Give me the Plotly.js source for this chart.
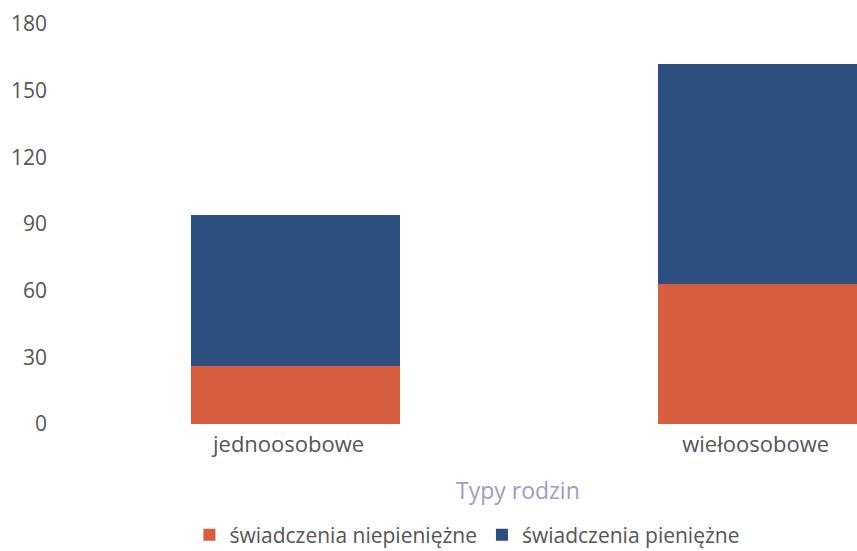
<!DOCTYPE html>
<html>
<head>
<meta charset="utf-8">
<script src="https://cdn.plot.ly/plotly-3.0.1.min.js"></script>
<style>html,body{margin:0;padding:0;background:#fff}#chart{width:857px;height:551px}</style>
</head>
<body>
<div id="chart"></div>
<script>
const categories = ["jednoosobowe", "wiełoosobowe"];
const seriesNames = ["świadczenia niepieniężne", "świadczenia pieniężne"];
const niepieniezne = [26, 63];
const pieniezne = [68, 99];
const yTicks = [0, 30, 60, 90, 120, 150, 180];
const xTitle = "Typy rodzin";

const traces = [
  {type: "bar", name: seriesNames[0], x: categories, y: niepieniezne,
   marker: {color: "#d65d3e"}, width: 0.447, hoverinfo: "y"},
  {type: "bar", name: seriesNames[1], x: categories, y: pieniezne,
   marker: {color: "#2d4f80"}, width: 0.447, hoverinfo: "y"}
];

const layout = {
  width: 857, height: 551,
  barmode: "stack",
  margin: {l: 62, r: 0, t: 24, b: 127, autoexpand: false},
  paper_bgcolor: "#fff", plot_bgcolor: "#fff",
  font: {family: "Open Sans, sans-serif", color: "#555", size: 20},
  xaxis: {type: "category", range: [-0.5, 1.202], showgrid: false, zeroline: false,
          showline: false, ticks: "", tickfont: {size: 22, color: "#555"},
          ticklabelstandoff: 5, ticklabelshift: -7, fixedrange: true, automargin: false},
  yaxis: {range: [0, 180], tickvals: yTicks, showgrid: false, zeroline: false,
          showline: false, ticks: "", tickfont: {size: 21, color: "#555"},
          ticklabelstandoff: 14, fixedrange: true, automargin: false},
  showlegend: true,
  legend: {orientation: "h", x: 0.510, xanchor: "center", y: -0.2775, yanchor: "middle",
           font: {size: 21, color: "#555"}, traceorder: "normal"},
  annotations: [{text: xTitle, xref: "paper", yref: "paper", x: 0.5736, y: -0.165,
                 xanchor: "center", yanchor: "middle", showarrow: false,
                 font: {size: 23, color: "#a49bc6"}}]
};

Plotly.newPlot("chart", traces, layout, {displayModeBar: false, staticPlot: true});
</script>
</body>
</html>
